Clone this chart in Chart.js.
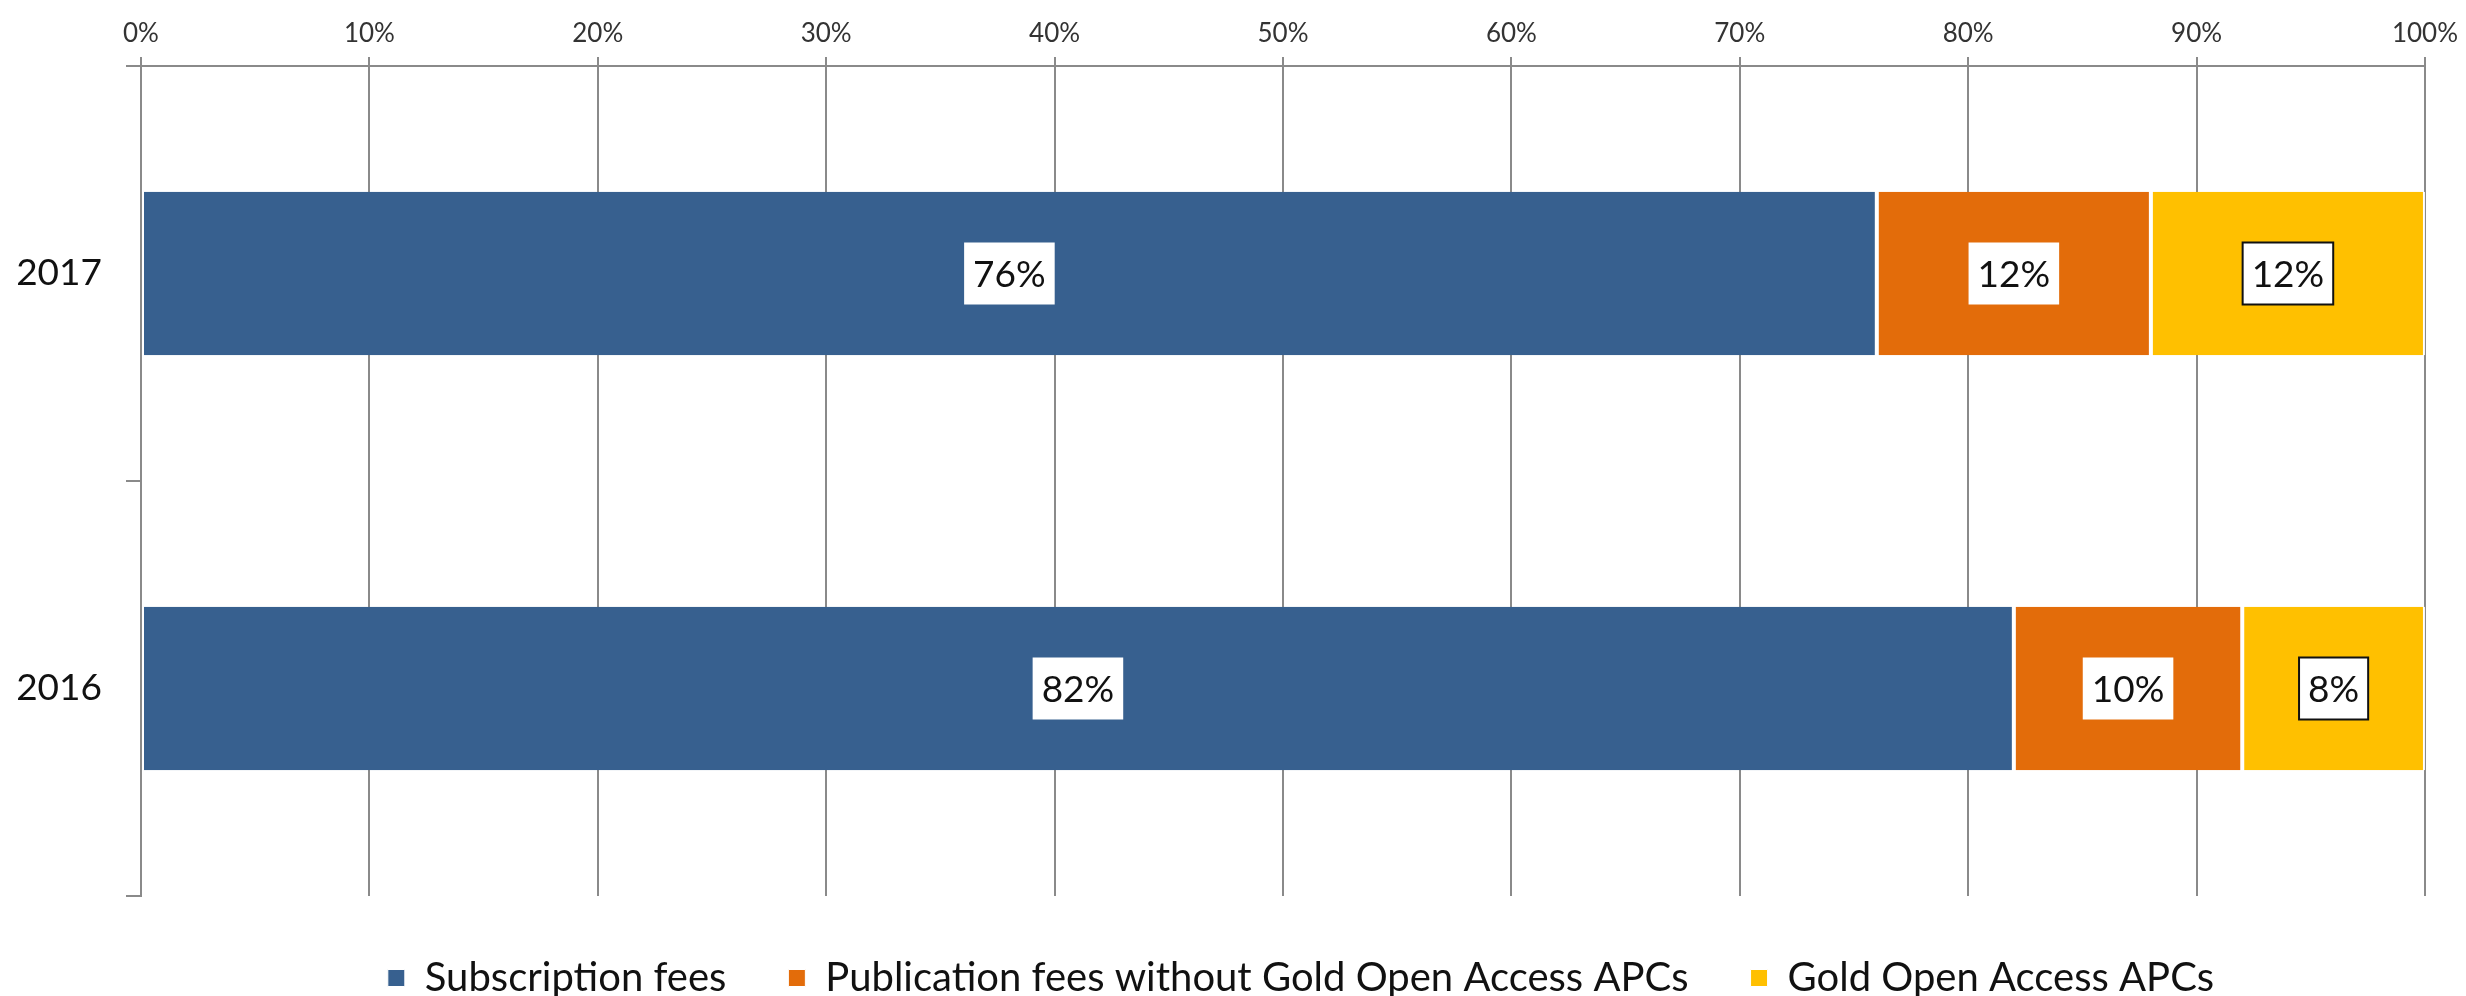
<!DOCTYPE html>
<html>
<head>
<meta charset="utf-8">
<script src="https://cdn.jsdelivr.net/npm/chart.js@4/dist/chart.umd.min.js"></script>
<style>
  html, body { margin: 0; padding: 0; background: #fff; }
  #wrap { width: 2466px; height: 996px; }
</style>
</head>
<body>
<div id="wrap"><canvas id="myChart" width="2466" height="996"></canvas></div>
<script>
const ctx = document.getElementById('myChart');

// data
const categories = ['2017', '2016'];
const subscriptionFees = [76, 82];
const publicationFees = [12, 10];
const goldOA = [12, 8];
const tickValues = [0, 10, 20, 30, 40, 50, 60, 70, 80, 90, 100];

const gridGray = '#8a8a8a';

// draws the boxed percentage label in the middle of each bar segment
const boxLabels = {
    id: 'boxLabels',
    afterDatasetsDraw(chart) {
        const c = chart.ctx;
        c.save();
        c.font = '37px Lato';
        c.textAlign = 'center';
        c.textBaseline = 'middle';
        chart.data.datasets.forEach((ds, i) => {
            const meta = chart.getDatasetMeta(i);
            meta.data.forEach((bar, j) => {
                const { x, y, base } = bar.getProps(['x', 'y', 'base'], true);
                const cx = (x + base) / 2;
                const txt = ds.data[j] + '%';
                const w = c.measureText(txt).width + 18;
                const h = 62;
                c.fillStyle = '#fff';
                c.fillRect(cx - w / 2, y - h / 2, w, h);
                if (ds.labelBorder) {
                    c.strokeStyle = ds.labelBorder;
                    c.lineWidth = 2;
                    c.strokeRect(cx - w / 2, y - h / 2, w, h);
                }
                c.fillStyle = '#111';
                c.fillText(txt, cx, y + 2);
            });
        });
        c.restore();
    }
};

// nudge the legend row a bit right, like the original sits under the plot
const legendShift = {
    id: 'legendShift',
    afterLayout(chart) {
        chart.legend.left += 75;
        chart.legend.right += 75;
    }
};

new Chart(ctx, {
    type: 'bar',
    data: {
        labels: categories,
        datasets: [{
            label: 'Subscription fees',
            data: subscriptionFees,
            backgroundColor: '#37608f',
            labelBorder: null
        }, {
            label: 'Publication fees without Gold Open Access APCs',
            data: publicationFees,
            backgroundColor: '#e36c0a',
            labelBorder: null
        }, {
            label: 'Gold Open Access APCs',
            data: goldOA,
            backgroundColor: '#ffc000',
            labelBorder: '#111'
        }].map(d => Object.assign(d, {
            borderColor: '#fff',
            borderWidth: { left: 2, right: 2, top: 0, bottom: 0 },
            borderSkipped: false,
            barPercentage: 0.394,
            categoryPercentage: 1
        }))
    },
    options: {
        indexAxis: 'y',
        responsive: false,
        animation: false,
        layout: { padding: { left: 0, right: 14, top: 0, bottom: -12 } },
        plugins: {
            tooltip: { enabled: false },
            legend: {
                position: 'bottom',
                labels: {
                    font: { family: 'Lato', size: 40 },
                    color: '#111',
                    boxWidth: 17,
                    boxHeight: 17,
                    padding: 62
                }
            }
        },
        scales: {
            x: {
                position: 'top',
                stacked: true,
                min: 0,
                max: 100,
                afterBuildTicks: s => { s.ticks = tickValues.map(v => ({ value: v })); },
                afterFit: s => { s.height = 66; },
                ticks: {
                    callback: v => v + '%',
                    font: { family: 'Lato', size: 26 },
                    color: '#333',
                    padding: 8,
                    maxRotation: 0
                },
                grid: { color: gridGray, lineWidth: 2, tickLength: 9 },
                border: { color: gridGray, width: 2 }
            },
            y: {
                stacked: true,
                afterFit: s => { s.width = 141; },
                ticks: {
                    font: { family: 'Lato', size: 37 },
                    color: '#111',
                    padding: 24
                },
                grid: { offset: true, drawOnChartArea: false, color: gridGray, lineWidth: 2, tickLength: 15 },
                border: { color: gridGray, width: 2 }
            }
        }
    },
    plugins: [boxLabels, legendShift]
});
</script>
</body>
</html>
